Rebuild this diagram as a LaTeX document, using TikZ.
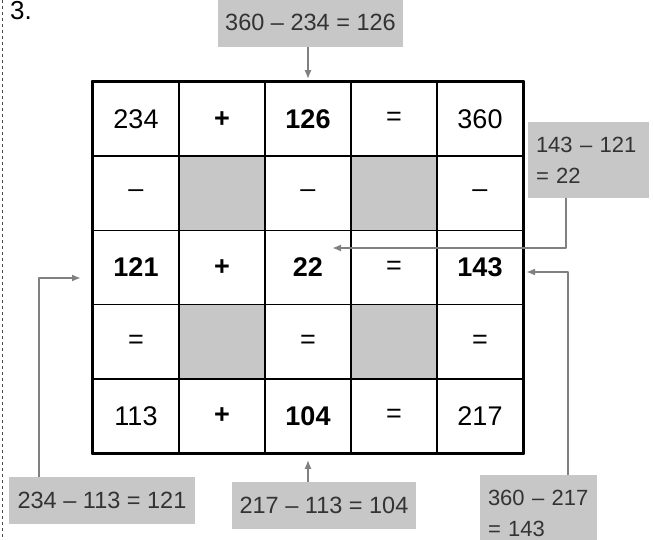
\documentclass[tikz,border=0pt]{standalone}
\usepackage{fontspec}
\setmainfont{Liberation Sans}
\usetikzlibrary{arrows.meta,positioning}

\begin{document}
\begin{tikzpicture}[x=1pt,y=-1pt,line join=round,
  cell/.style={draw=black,line width=1.5pt,minimum width=86pt,minimum height=74.2pt,inner sep=0pt,font=\fontsize{27}{30}\selectfont},
  shadecell/.style={cell,fill=black!22},
  lbl/.style={fill=black!22,text=black!80,inner sep=0pt,font=\fontsize{23.5}{31}\selectfont},
  lbltwo/.style={lbl,anchor=north,inner xsep=8pt,inner ysep=14.5pt,align=left,font=\fontsize{22}{31}\selectfont},
  conn/.style={draw=black!50,line width=1.8pt,-{Latex[length=9pt,width=7pt]}}]
\path[use as bounding box] (0,0) rectangle (653,540);
\draw[black!70,line width=1pt,dash pattern=on 3pt off 3pt] (2,0) -- (2,540);
\node[anchor=base west,inner sep=0pt,font=\fontsize{26}{30}\selectfont] (num) at (10,20) {3.};
\node[cell] (c11) at (136,119.1) {234};
\node[cell] (c12) at (222,119.1) {\textbf{+}};
\node[cell] (c13) at (308,119.1) {\textbf{126}};
\node[cell] (c14) at (394,119.1) {=};
\node[cell] (c15) at (480,119.1) {360};
\node[cell] (c21) at (136,193.3) {–};
\node[shadecell] (c22) at (222,193.3) {};
\node[cell] (c23) at (308,193.3) {–};
\node[shadecell] (c24) at (394,193.3) {};
\node[cell] (c25) at (480,193.3) {–};
\node[cell] (c31) at (136,267.5) {\textbf{121}};
\node[cell] (c32) at (222,267.5) {\textbf{+}};
\node[cell] (c33) at (308,267.5) {\textbf{22}};
\node[cell] (c34) at (394,267.5) {=};
\node[cell] (c35) at (480,267.5) {\textbf{143}};
\node[cell] (c41) at (136,341.7) {=};
\node[shadecell] (c42) at (222,341.7) {};
\node[cell] (c43) at (308,341.7) {=};
\node[shadecell] (c44) at (394,341.7) {};
\node[cell] (c45) at (480,341.7) {=};
\node[cell] (c51) at (136,415.9) {113};
\node[cell] (c52) at (222,415.9) {\textbf{+}};
\node[cell] (c53) at (308,415.9) {\textbf{104}};
\node[cell] (c54) at (394,415.9) {=};
\node[cell] (c55) at (480,415.9) {217};
\draw[line width=2.4pt] (c11.north west) rectangle (c55.south east);
% gray boxes with the working
\node[lbl,minimum width=185pt,minimum height=50pt] (lblA) at (310.5,22) {360 – 234 = 126};
\node[lbltwo,text width=105pt] (lblB) at (588.5,122) {143 – 121\\= 22};
\node[lbl,minimum width=186pt,minimum height=47pt] (lblC) at (102,500.5) {234 – 113 = 121};
\node[lbl,minimum width=184pt,minimum height=47pt] (lblD) at (324,505.5) {217 – 113 = 104};
\node[lbltwo,text width=101pt] (lblE) at (538.5,475) {360 – 217\\= 143};
\coordinate (tipB) at (332,248);
\coordinate (tipC) at (81,278);
\coordinate (tipE) at (526,272);
\draw[conn] (lblA.south -| c13) -- ([yshift=2pt]c13.north);
\draw[conn] ([xshift=-22.5pt]lblB.south) |- (tipB);
\draw[conn] ([xshift=-63pt]lblC.north) |- (tipC);
\draw[conn] (lblD.north -| c53) -- ([yshift=-6pt]c53.south);
\draw[conn] ([xshift=29.5pt]lblE.north) |- (tipE);
\end{tikzpicture}
\end{document}
